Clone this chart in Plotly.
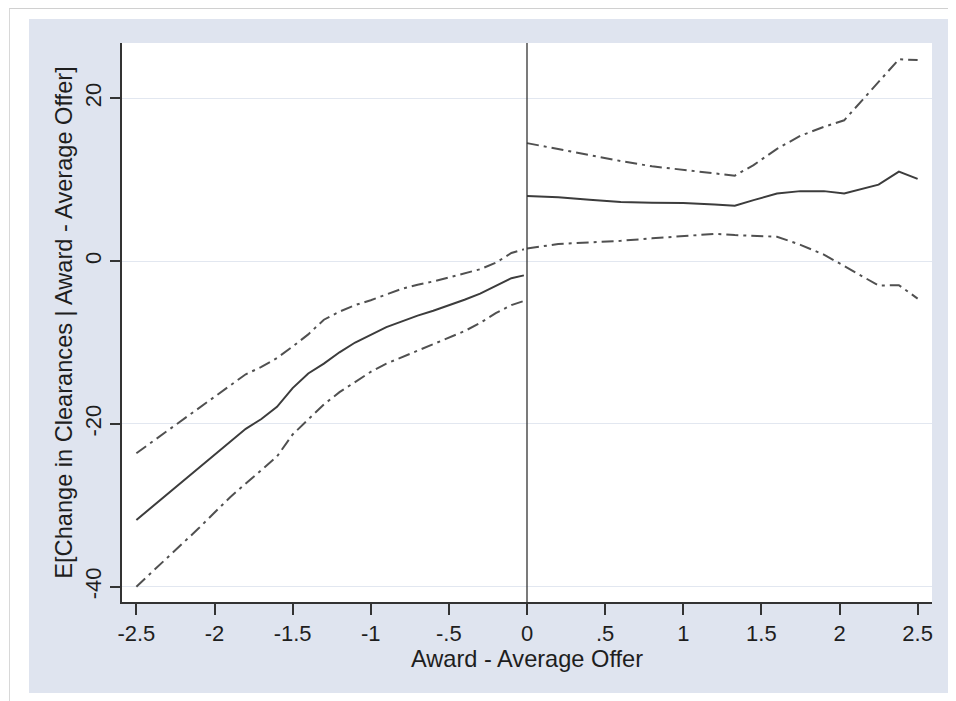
import plotly.graph_objects as go

# ---- data ----
x_left = [-2.5, -2.3, -2.1, -1.9, -1.8, -1.7, -1.6, -1.5, -1.4, -1.3, -1.2, -1.1,
          -1.0, -0.9, -0.8, -0.7, -0.6, -0.5, -0.4, -0.3, -0.2, -0.1, -0.02]
est_left = [-31.8, -28.6, -25.4, -22.1, -20.6, -19.4, -17.9, -15.6, -13.8, -12.6, -11.2, -10.0,
            -9.0, -8.1, -7.4, -6.7, -6.1, -5.45, -4.75, -4.0, -3.1, -2.1, -1.75]
upper_left = [-23.6, -20.8, -18.1, -15.3, -13.9, -13.0, -11.9, -10.5, -9.0, -7.2, -6.2, -5.4,
              -4.8, -4.1, -3.4, -2.9, -2.5, -2.0, -1.5, -1.0, -0.2, 1.0, 1.45]
lower_left = [-40.0, -36.4, -32.8, -29.0, -27.3, -25.7, -24.0, -21.3, -19.4, -17.6, -16.1, -14.9,
              -13.6, -12.6, -11.8, -11.0, -10.2, -9.4, -8.6, -7.6, -6.4, -5.4, -4.9]

x_right = [0.0, 0.2, 0.4, 0.6, 0.8, 1.0, 1.2, 1.33, 1.45, 1.6, 1.75, 1.9, 2.03, 2.25, 2.38, 2.5]
est_right = [8.0, 7.85, 7.55, 7.25, 7.18, 7.13, 6.95, 6.8, 7.5, 8.3, 8.6, 8.6, 8.3, 9.4, 11.0, 10.1]
upper_right = [14.5, 13.75, 13.0, 12.3, 11.65, 11.2, 10.7, 10.5, 11.8, 13.8, 15.4, 16.5, 17.3, 22.0, 24.8, 24.7]
lower_right = [1.55, 2.1, 2.3, 2.5, 2.8, 3.1, 3.35, 3.2, 3.15, 3.0, 2.0, 0.8, -0.6, -3.0, -2.95, -4.6]

x_tickvals = [-2.5, -2, -1.5, -1, -0.5, 0, 0.5, 1, 1.5, 2, 2.5]
x_ticktext = ["-2.5", "-2", "-1.5", "-1", "-.5", "0", ".5", "1", "1.5", "2", "2.5"]
y_tickvals = [-40, -20, 0, 20]
y_ticktext = ["-40", "-20", "0", "20"]

x_title = "Award - Average Offer"
y_title = "E[Change in Clearances | Award - Average Offer]"

# ---- styling / layout (page body has an 8px margin) ----
OFF = 8
W, H = 956 - OFF, 701 - OFF
ML, MR, MT, MB = 122 - OFF, 24, 43 - OFF, 99
PW, PH = W - ML - MR, H - MT - MB
BLUE = "#dfe4ef"
GRID = "#e2e7f0"
FONT = "Liberation Sans, Arial, sans-serif"
TXT = "#1e1e1e"
SOLID_C = "#3c3c3c"
DASH_C = "#505050"
DASH = "12px,5px,3px,5px"


def px_to_paper_x(px):
    # px in page coordinates
    return (px - OFF - ML) / PW


def px_to_paper_y(py):
    return (H - MB - (py - OFF)) / PH


fig = go.Figure()

for xs, ys in [(x_left, upper_left), (x_left, lower_left), (x_right, upper_right), (x_right, lower_right)]:
    fig.add_trace(go.Scatter(x=xs, y=ys, mode="lines",
                             line=dict(color=DASH_C, width=2, dash=DASH),
                             showlegend=False, hoverinfo="skip"))
for xs, ys in [(x_left, est_left), (x_right, est_right)]:
    fig.add_trace(go.Scatter(x=xs, y=ys, mode="lines",
                             line=dict(color=SOLID_C, width=2),
                             showlegend=False, hoverinfo="skip"))

shapes = []
# vertical line at 0
shapes.append(dict(type="line", xref="x", yref="y domain", x0=0, x1=0, y0=0, y1=1,
                   line=dict(color="#333333", width=1.3), layer="above"))
# white outer strips (outside the blue region)
white = dict(type="rect", xref="paper", yref="paper", fillcolor="white",
             line=dict(width=0), layer="above")
shapes.append(dict(white, x0=px_to_paper_x(0), x1=px_to_paper_x(29), y0=px_to_paper_y(710), y1=px_to_paper_y(0)))
shapes.append(dict(white, x0=px_to_paper_x(954), x1=px_to_paper_x(962), y0=px_to_paper_y(710), y1=px_to_paper_y(0)))
shapes.append(dict(white, x0=px_to_paper_x(0), x1=px_to_paper_x(962), y0=px_to_paper_y(19), y1=px_to_paper_y(0)))
shapes.append(dict(white, x0=px_to_paper_x(0), x1=px_to_paper_x(962), y0=px_to_paper_y(710), y1=px_to_paper_y(693)))
# thin page border lines
shapes.append(dict(type="line", xref="paper", yref="paper",
                   x0=px_to_paper_x(9), x1=px_to_paper_x(962), y0=px_to_paper_y(8.5), y1=px_to_paper_y(8.5),
                   line=dict(color="#d0d0d0", width=1), layer="above"))
shapes.append(dict(type="line", xref="paper", yref="paper",
                   x0=px_to_paper_x(9.5), x1=px_to_paper_x(9.5), y0=px_to_paper_y(8.5), y1=px_to_paper_y(710),
                   line=dict(color="#d8d8d8", width=1), layer="above"))

fig.update_layout(
    width=W, height=H,
    margin=dict(l=ML, r=MR, t=MT, b=MB, pad=0),
    paper_bgcolor=BLUE, plot_bgcolor="white",
    font=dict(family=FONT, color=TXT, size=22),
    shapes=shapes,
    showlegend=False,
)

fig.update_xaxes(
    range=[-2.592, 2.592], tickvals=x_tickvals, ticktext=x_ticktext,
    showgrid=False, zeroline=False,
    showline=True, linecolor="#333333", linewidth=1.5,
    ticks="outside", ticklen=11, tickwidth=1.8, tickcolor="#333333",
    tickfont=dict(size=22, family=FONT, color=TXT),
    title=dict(text=x_title, font=dict(size=23.6, family=FONT, color=TXT), standoff=0),
    automargin=False,
)
fig.update_yaxes(
    range=[-41.88, 26.8], tickvals=y_tickvals, ticktext=y_ticktext,
    showgrid=True, gridcolor=GRID, gridwidth=1, zeroline=False,
    showline=True, linecolor="#333333", linewidth=1.5,
    ticks="outside", ticklen=10, tickwidth=1.8, tickcolor="#333333",
    tickangle=-90,
    tickfont=dict(size=22, family=FONT, color=TXT),
    title=dict(text=y_title, font=dict(size=23.6, family=FONT, color=TXT), standoff=2),
    automargin=False,
)

fig.write_html("out.html")
